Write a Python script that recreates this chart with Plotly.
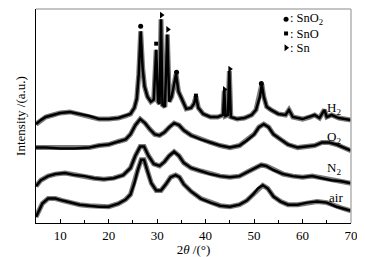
import plotly.graph_objects as go

# ---- data (intensity in arbitrary units) ----
h2_x = [5, 6, 7, 8.5, 10, 12, 14, 16, 18, 20, 22, 23.5, 24.5, 25.3, 25.8, 26.2, 26.6, 27.0, 27.4, 28.0,
        28.7, 29.3, 29.8, 30.2, 30.5, 30.8, 31.1, 31.6, 32.1, 32.5, 33.0, 33.4, 33.9, 34.4, 35.0, 36.0,
        37.0, 37.6, 38.0, 38.5, 39.5, 41, 42.5, 43.6, 43.85, 44.1, 44.6, 44.9, 45.2, 46.5, 48, 49.5,
        50.4, 50.8, 51.2, 51.6, 52.0, 52.6, 53.5, 55, 56.5, 57.2, 58, 60, 61.5, 62.5, 63.5, 64.5, 65,
        66, 67.5, 69, 70]
h2_y = [97, 101, 104, 106, 108, 109, 107, 105, 102, 102, 103, 105, 107, 113, 122, 146, 188, 152, 134, 124,
        119, 121, 170, 119, 117, 200, 116, 114, 185, 119, 124, 134, 146, 129, 122, 112,
        113, 117, 124, 113, 107, 104, 104, 106, 130, 105, 106, 149, 104, 102, 103, 106,
        111, 119, 124, 136, 124, 114, 111, 107, 106, 111, 104, 102, 104, 106, 103, 111, 104,
        106, 103, 102, 101]

o2_x = [5, 7, 10, 13, 16, 18, 20, 22, 23.5, 24.5, 25.5, 26.5, 27.5, 28.5, 29.5, 30.5, 31.5, 32.5, 33.5,
        34.5, 35.5, 37, 39, 41, 43, 45, 47, 48.5, 50, 51, 52, 53, 54, 55.5, 57, 59, 61, 62.5, 64, 65.5,
        67, 68.5, 70]
o2_y = [74, 74, 73, 73, 74, 76, 77, 80, 82, 87, 96, 102, 98, 92, 87, 86, 89, 94, 98,
        96, 91, 86, 82, 79, 76, 74, 76, 81, 87, 94, 97, 94, 87, 82, 77, 74, 75, 76, 79, 79,
        77, 74, 71]

n2_x = [5, 6, 7.5, 9, 11, 13, 15, 17, 19, 21, 23, 24.5, 25.5, 26.5, 27.3, 28.2, 29.3, 30.5, 31.5, 32.5,
        33.5, 34.5, 35.5, 37, 39, 41, 43, 45, 47, 49, 50.5, 51.5, 52.5, 54, 56, 58, 60, 62, 64, 66, 68, 70]
n2_y = [36, 42, 46, 48, 49, 47, 46, 44, 43, 44, 47, 54, 66, 75, 75, 66, 58, 56, 60, 66,
        70, 66, 59, 54, 51, 48, 46, 45, 46, 51, 55, 57, 56, 52, 48, 46, 45, 46, 44, 42, 41, 39]

air_x = [5, 5.5, 6.3, 7.5, 9, 10.5, 12, 14, 16, 18, 20, 22, 23.5, 24.5, 25.3, 26.0, 26.7, 27.3, 28.0,
         28.8, 29.8, 30.8, 31.8, 32.8, 33.8, 34.6, 35.5, 37, 39, 41, 43, 45, 47, 48.5, 49.8, 50.8,
         51.8, 52.8, 54, 55.5, 57, 59, 61, 63, 65, 67, 68.5, 70]
air_y = [6, 11, 19, 24, 24, 22, 20, 18, 17, 16, 16, 19, 23, 28, 39, 52, 62, 62, 51,
         39, 32, 32, 38, 45, 47, 45, 38, 31, 24, 20, 17, 16, 18, 22, 28, 34,
         37, 34, 26, 21, 18, 18, 20, 21, 20, 16, 14, 12]

# phase marks above peaks
sno2_x = [26.6, 34.0, 51.5]
sno2_y = [193, 148, 137]
sno_x = [29.8, 38.0]
sno_y = [176, 125]
sn_x = [30.9, 32.2, 43.9, 45.0]
sn_y = [204, 190, 131, 151]

curve_labels = ["H<sub>2</sub>", "O<sub>2</sub>", "N<sub>2</sub>", "air"]
legend_labels = [": SnO<sub>2</sub>", ": SnO", ": Sn"]
x_ticks = [10, 20, 30, 40, 50, 60, 70]

FONT = "Liberation Serif"
fig = go.Figure()

for xs, ys in [(h2_x, h2_y), (o2_x, o2_y), (n2_x, n2_y), (air_x, air_y)]:
    fig.add_trace(go.Scatter(x=xs, y=ys, mode="lines", line=dict(color="#7a7a7a", width=5),
                             hoverinfo="skip", showlegend=False))
    fig.add_trace(go.Scatter(x=xs, y=ys, mode="lines", line=dict(color="black", width=2.5),
                             showlegend=False))

fig.add_trace(go.Scatter(x=sno2_x, y=sno2_y, mode="markers",
                         marker=dict(symbol="circle", size=5, color="black"), showlegend=False))
fig.add_trace(go.Scatter(x=sno_x, y=sno_y, mode="markers",
                         marker=dict(symbol="square", size=4, color="black"), showlegend=False))
fig.add_trace(go.Scatter(x=sn_x, y=sn_y, mode="markers",
                         marker=dict(symbol="triangle-right", size=6, color="black"), showlegend=False))

# legend block (top right)
leg_x = 56.6
leg_y = [200, 186, 172]
leg_text_y = [200, 185, 172]
leg_sym = ["circle", "square", "triangle-right"]
leg_size = [5, 4, 6]
for yy, ty, sym, sz, lab in zip(leg_y, leg_text_y, leg_sym, leg_size, legend_labels):
    fig.add_trace(go.Scatter(x=[leg_x], y=[yy], mode="markers",
                             marker=dict(symbol=sym, size=sz, color="black"), showlegend=False))
    fig.add_annotation(x=leg_x + 0.5, y=ty, xref="x", yref="y", text=lab, showarrow=False,
                       xanchor="left", yanchor="middle", font=dict(family=FONT, size=12.5, color="black"))

# curve labels
lab_pos = [(68.4, 112), (68.4, 84), (68.4, 53), (68.7, 25)]
for (lx, ly), t in zip(lab_pos, curve_labels):
    fig.add_annotation(x=lx, y=ly, xref="x", yref="y", text=t, showarrow=False,
                       xanchor="right", yanchor="middle", font=dict(family=FONT, size=13, color="black"))

# gray top/right frame
fig.add_shape(type="line", xref="paper", yref="paper", x0=0, x1=1, y0=1, y1=1,
              line=dict(color="#b0b0b0", width=1.5))
fig.add_shape(type="line", xref="paper", yref="paper", x0=1, x1=1, y0=0, y1=1,
              line=dict(color="#b0b0b0", width=1.5))

# page body adds an 8px offset, so the figure is sized to fit the window
fig.update_layout(
    width=357, height=249,
    margin=dict(l=28, r=14, t=1, b=30),
    paper_bgcolor="white", plot_bgcolor="white",
    font=dict(family=FONT, size=12, color="black"),
    xaxis=dict(range=[5, 70], tickvals=x_ticks, ticks="inside", ticklen=4, tickcolor="black",
               showline=True, linecolor="black", linewidth=1, showgrid=False, zeroline=False,
               tickfont=dict(family=FONT, size=13),
               minor=dict(tickvals=[15, 25, 35, 45, 55, 65], ticks="inside", ticklen=3, tickcolor="black"),
               title=dict(text="2<i>θ</i> /(°)", font=dict(family=FONT, size=13), standoff=4)),
    yaxis=dict(range=[0, 210], showticklabels=False, ticks="", showline=True, linecolor="black",
               linewidth=1, showgrid=False, zeroline=False,
               title=dict(text="Intensity /(a.u.)", font=dict(family=FONT, size=13), standoff=6)),
)

fig.write_html("out.html")
